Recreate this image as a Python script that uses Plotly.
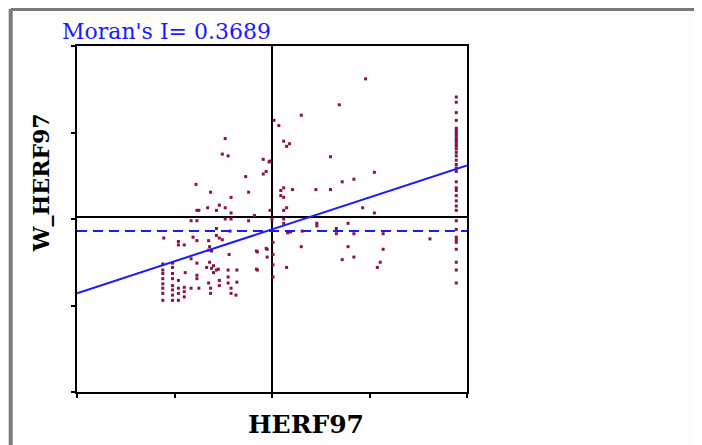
import plotly.graph_objects as go

# ---- data (standardized values) ----
herf97 = (
    [1.89] * 37
    + [0.02, -0.02, -0.02, 0.00, 0.01, 0.01, 0.01, 0.01]
    + [0.96, 0.69, 0.30, 0.07, 0.12, 0.18, 0.15, 0.60, 1.05, 0.84, 0.72, 0.12, 0.09, 0.21,
       0.45, 0.60, 0.09, 0.12, 0.15, 0.12, 0.93, 1.05]
    + [0.12, 0.12, 0.46, 0.46, 0.78, 0.16, 0.19, 0.31, 0.66, 0.66, 0.84, 1.14, 1.62, 0.30,
       0.78, 1.14, -0.15, -0.05, -0.05, 0.84, 0.72, 1.11, 1.08, 0.15, -0.15]
    + [-0.09, -0.03, -0.06, -0.09, -0.27, -0.24, -0.18, -0.24, -0.48, -0.51, -0.45, -0.78,
       -0.63, -0.42, -0.77, -0.75, -0.66, -0.54, -0.57, -0.48, -0.42, -0.83, -0.77, -0.48, -0.42]
    + [-0.57, -0.43, -0.57, -0.54, -0.51, -1.11, -0.96, -0.96, -0.90, -0.81, -0.77, -0.65,
       -0.64, -0.65, -0.62, -0.44, -0.83, -0.77, -0.64, -0.67, -0.62, -0.57, -0.60, -0.60,
       -0.55, -0.45, -0.36, -0.45, -0.36, -0.45, -0.54, -0.54, -0.65, -0.63, -0.63, -0.75,
       -0.83, -0.77, -0.77, -0.89, -0.42, -0.42, -0.37, -0.16, -0.06, -0.16]
    + [-1.02] * 8 + [-0.96] * 4 + [-0.90] * 3 + [-1.12] * 8
)
w_herf97 = (
    [1.39, 1.33, 1.21, 1.12, 1.03, 1.01, 0.98, 0.96, 0.94, 0.91, 0.89, 0.87, 0.84, 0.82,
     0.79, 0.75, 0.71, 0.66, 0.61, 0.57, 0.53, 0.41, 0.34, 0.31, 0.25, 0.19, 0.13, 0.08,
     -0.04, -0.14, -0.23, -0.26, -0.29, -0.37, -0.52, -0.61, -0.76]
    + [1.12, 0.65, 0.08, -0.03, -0.29, -0.43, -0.55, -0.69]
    + [1.60, 1.30, 1.18, 1.06, 0.88, 0.85, 0.82, 0.70, 0.52, 0.44, 0.41, 0.34, 0.31, 0.32,
       0.32, 0.32, 0.25, 0.23, 0.11, 0.08, 0.11, 0.05]
    + [-0.02, -0.07, -0.07, -0.10, -0.07, -0.18, -0.17, -0.16, -0.13, -0.19, -0.19, -0.19,
       -0.25, -0.34, -0.34, -0.37, -0.40, -0.37, -0.46, -0.46, -0.49, -0.52, -0.58, -0.58, -0.61]
    + [0.67, 0.64, 0.53, 0.50, 0.47, 0.29, 0.02, -0.04, 0.91, 0.73, 0.71, 0.38, 0.29, 0.23,
       0.08, 0.08, 0.11, 0.14, 0.08, 0.11, 0.05, -0.04, -0.04, -0.02, -0.02]
    + [-0.13, -0.16, -0.21, -0.24, -0.26, -0.24, -0.28, -0.32, -0.32, -0.23, -0.27, -0.27,
       -0.34, -0.38, -0.39, -0.43, -0.48, -0.53, -0.52, -0.58, -0.59, -0.61, -0.64, -0.56,
       -0.60, -0.61, -0.61, -0.69, -0.75, -0.76, -0.73, -0.79, -0.76, -0.82, -0.88, -0.82,
       -0.82, -0.67, -0.71, -0.64, -0.82, -0.88, -0.90, -0.39, -0.36, -0.60]
    + [-0.53, -0.58, -0.65, -0.71, -0.79, -0.84, -0.90, -0.96]
    + [-0.73, -0.82, -0.88, -0.96]
    + [-0.81, -0.86, -0.92]
    + [-0.54, -0.61, -0.65, -0.71, -0.77, -0.82, -0.88, -0.96]
)
moran_i = 0.3689
intercept = -0.14
wy_mean = -0.16
x_range = [-2.0, 2.0]
y_range = [-2.02, 1.98]
x_ticks = [-2.0, -1.0, 0.0, 1.0, 2.0]
y_ticks = [-2.02, -1.02, -0.02, 0.98, 1.98]

fig = go.Figure()
fig.add_trace(go.Scatter(
    x=herf97, y=w_herf97, mode="markers",
    marker=dict(color="#8a1048", size=3, symbol="square", line=dict(width=0)),
    showlegend=False, hoverinfo="skip"))
fig.add_trace(go.Scatter(
    x=x_range, y=[wy_mean, wy_mean], mode="lines",
    line=dict(color="#1a1aff", width=2, dash="10px,6px"),
    showlegend=False, hoverinfo="skip"))
fig.add_trace(go.Scatter(
    x=x_range, y=[intercept + moran_i * v for v in x_range], mode="lines",
    line=dict(color="#1a1aff", width=2),
    showlegend=False, hoverinfo="skip"))

axis_common = dict(
    showgrid=False, showticklabels=False,
    showline=True, linecolor="black", linewidth=2, mirror=True,
    ticks="outside", ticklen=4, tickwidth=2, tickcolor="black",
    zeroline=True, zerolinecolor="black", zerolinewidth=2,
)
fig.update_xaxes(range=x_range, tickvals=x_ticks, **axis_common)
fig.update_yaxes(range=y_range, tickvals=y_ticks, **axis_common)

# outer window frame
frame = dict(color="#7a7a7a", width=4)
fig.add_shape(type="line", xref="paper", yref="paper",
              x0=-0.170, x1=-0.170, y0=1.107, y1=-0.2, line=frame)
fig.add_shape(type="line", xref="paper", yref="paper",
              x0=-0.170, x1=1.7, y0=1.107, y1=1.107, line=frame)

fig.add_annotation(text="Moran's I= 0.3689", xref="paper", yref="paper",
                   x=-0.044, y=1.043, xanchor="left", yanchor="middle", showarrow=False,
                   font=dict(family="DejaVu Serif", size=22, color="#1a1aff"))
fig.add_annotation(text="<b>HERF97</b>", xref="paper", yref="paper",
                   x=0.587, y=-0.095, xanchor="center", yanchor="middle", showarrow=False,
                   font=dict(family="DejaVu Serif", size=25, color="black"))
fig.add_annotation(text="<b>W_HERF97</b>", xref="paper", yref="paper",
                   x=-0.092, y=0.604, xanchor="center", yanchor="middle", showarrow=False,
                   textangle=-90,
                   font=dict(family="DejaVu Serif", size=22, color="black"))

fig.update_layout(
    width=694, height=437,
    margin=dict(l=69, r=235, t=38, b=53),
    paper_bgcolor="#fdfdfd", plot_bgcolor="#fdfdfd",
)
fig.write_html("out.html")
